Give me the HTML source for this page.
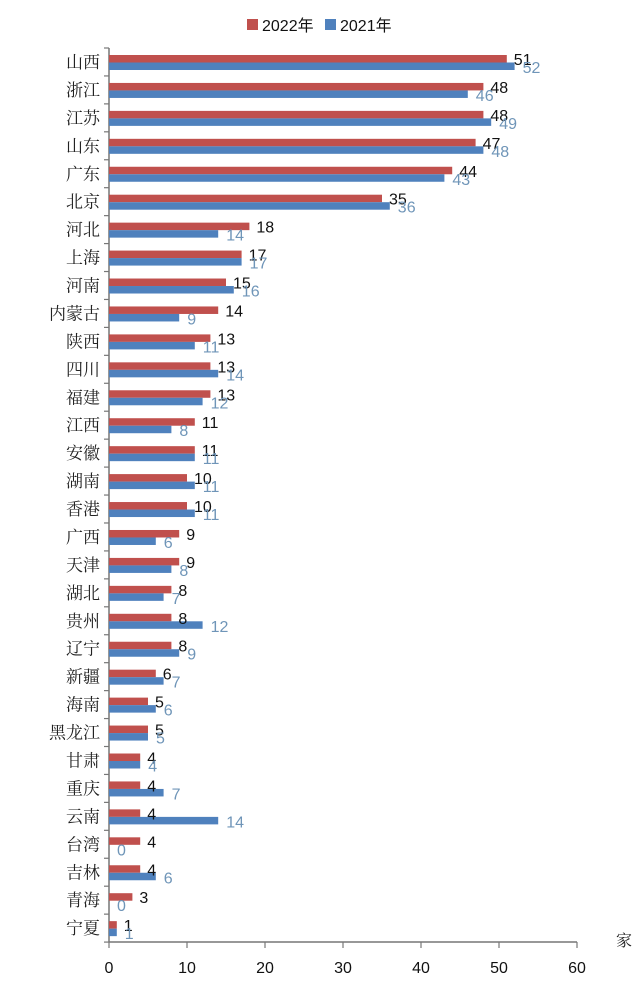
<!DOCTYPE html>
<html><head><meta charset="utf-8"><style>
html,body{margin:0;padding:0;background:#fff;}
svg{display:block;}
</style></head><body>
<svg id="chart" width="640" height="983" xmlns="http://www.w3.org/2000/svg" font-family="'Liberation Sans','Noto Sans CJK SC',sans-serif">
  <g>
    <rect x="247" y="19" width="11" height="11" fill="#c0504d"/>
    <text x="262" y="31" font-size="16" fill="#111">2022年</text>
    <rect x="325" y="19" width="11" height="11" fill="#4f81bd"/>
    <text x="340" y="31" font-size="16" fill="#111">2021年</text>
  </g>
  <g id="plot"></g>
  <text x="616" y="946" font-size="16" fill="#222" font-family="'Noto Serif CJK SC',serif">家</text>
</svg>
<script>
const categories = ["山西","浙江","江苏","山东","广东","北京","河北","上海","河南","内蒙古","陕西","四川","福建","江西","安徽","湖南","香港","广西","天津","湖北","贵州","辽宁","新疆","海南","黑龙江","甘肃","重庆","云南","台湾","吉林","青海","宁夏"];
const values2022 = [51,48,48,47,44,35,18,17,15,14,13,13,13,11,11,10,10,9,9,8,8,8,6,5,5,4,4,4,4,4,3,1];
const values2021 = [52,46,49,48,43,36,14,17,16,9,11,14,12,8,11,11,11,6,8,7,12,9,7,6,5,4,7,14,0,6,0,1];
const xTicks = [0,10,20,30,40,50,60];

const NS = "http://www.w3.org/2000/svg";
const x0 = 109, xScale = 7.8, plotTop = 48, rowH = 27.94, axisY = 942;
const xPos = v => x0 + v * xScale;
const rowY = i => plotTop + i * rowH;
const g = document.getElementById('plot');
function mk(tag, attrs){ const e = document.createElementNS(NS, tag); for (const k in attrs) e.setAttribute(k, attrs[k]); g.appendChild(e); return e; }

let ax = mk('line',{x1:x0,y1:plotTop,x2:x0,y2:axisY,stroke:'#777','stroke-width':1.5});


let bx = mk('line',{x1:x0,y1:axisY,x2:xPos(60),y2:axisY,stroke:'#777','stroke-width':1.5});



for (let i = 0; i <= categories.length; i++) {
  const t = mk('line',{x1:x0-5,y1:rowY(i),x2:x0,y2:rowY(i),stroke:'#777','stroke-width':1.2});
  
  
}
xTicks.forEach(v => {
  const t = mk('line',{x1:xPos(v),y1:axisY,x2:xPos(v),y2:axisY+6,stroke:'#777','stroke-width':1.2});
  
  
  const l = mk('text',{x:xPos(v),y:axisY+31,'font-size':16,'text-anchor':'middle',fill:'#111'});
  l.textContent = v;
  
  
});

categories.forEach((c, i) => {
  const y = rowY(i);
  const lab = mk('text',{x:x0-9,y:y+20,'font-size':17,'text-anchor':'end',fill:'#222','font-family':"'Noto Serif CJK SC',serif"});
  lab.textContent = c;
  
  

  const r = mk('rect',{x:x0,y:y+7,width:values2022[i]*xScale,height:7.5,fill:'#c0504d'});
  
  
  const b = mk('rect',{x:x0,y:y+14.5,width:values2021[i]*xScale,height:7.5,fill:'#4f81bd'});
  
  

  const rl = mk('text',{x:xPos(values2022[i])+7,y:y+17,'font-size':16,fill:'#111'});
  rl.textContent = values2022[i];
  
  
  const bl = mk('text',{x:xPos(values2021[i])+8,y:y+25,'font-size':16,fill:'#6f95b8'});
  bl.textContent = values2021[i];
  
  
});
</script>
</body></html>
